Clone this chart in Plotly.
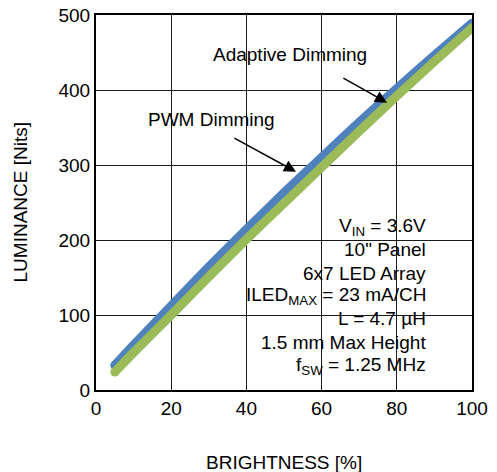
import plotly.graph_objects as go

brightness = [5, 10, 20, 30, 40, 50, 60, 70, 80, 90, 100]
adaptive = [33, 60, 112, 164, 214, 263, 310, 357, 402, 446, 489]
pwm = [24, 50, 100, 151, 201, 249, 297, 345, 392, 438, 483]

x_ticks = [0, 20, 40, 60, 80, 100]
y_ticks = [0, 100, 200, 300, 400, 500]

conditions = [
    "V<sub>IN</sub> = 3.6V",
    "10\" Panel",
    "6x7 LED Array",
    "ILED<sub>MAX</sub> = 23 mA/CH",
    "L = 4.7 µH",
    "1.5 mm Max Height",
    "f<sub>SW</sub> = 1.25 MHz",
]
condition_y = [217, 187, 156, 125, 95, 63, 32]

BLUE = "#4F81BD"
GREEN = "#9BBB59"
FONT = "Liberation Sans, Arial, sans-serif"
FS = 19

fig = go.Figure()
for ys, col, name in [(adaptive, BLUE, "Adaptive Dimming"), (pwm, GREEN, "PWM Dimming")]:
    fig.add_trace(go.Scatter(x=brightness, y=ys, mode="lines",
                             line=dict(color=col, width=9, shape="spline", smoothing=0.6),
                             name=name, showlegend=False))
    fig.add_trace(go.Scatter(x=[brightness[0], brightness[-1]], y=[ys[0], ys[-1]],
                             mode="markers", marker=dict(color=col, size=9),
                             showlegend=False, hoverinfo="skip"))

ann = [
    dict(x=77.4, y=383, ax=65.4, ay=417, xref="x", yref="y", axref="x", ayref="y",
         showarrow=True, arrowhead=2, arrowsize=1.6, arrowwidth=1.5, arrowcolor="black", text=""),
    dict(x=53.2, y=291, ax=36.4, ay=337, xref="x", yref="y", axref="x", ayref="y",
         showarrow=True, arrowhead=2, arrowsize=1.6, arrowwidth=1.5, arrowcolor="black", text=""),
    dict(x=51.6, y=448, xref="x", yref="y", text="Adaptive Dimming", showarrow=False,
         font=dict(size=FS, color="black", family=FONT)),
    dict(x=30.6, y=361, xref="x", yref="y", text="PWM Dimming", showarrow=False,
         font=dict(size=FS, color="black", family=FONT)),
    dict(x=0.5, y=-0.192, xref="paper", yref="paper", text="BRIGHTNESS [%]", showarrow=False,
         xanchor="center", yanchor="middle", font=dict(size=FS, color="black", family=FONT)),
    dict(x=-0.1995, y=0.5, xref="paper", yref="paper", text="LUMINANCE [Nits]", showarrow=False,
         textangle=-90, xanchor="center", yanchor="middle",
         font=dict(size=FS, color="black", family=FONT)),
]
for t, yv in zip(conditions, condition_y):
    ann.append(dict(x=88.4, y=yv, xref="x", yref="y", text=t, showarrow=False,
                    xanchor="right", yanchor="middle",
                    font=dict(size=FS, color="black", family=FONT)))

axis_common = dict(showgrid=True, gridcolor="#1a1a1a", gridwidth=1,
                   showline=True, linecolor="black", linewidth=2, mirror=True,
                   zeroline=False, ticks="", automargin=False,
                   tickfont=dict(size=FS, color="black", family=FONT))

fig.update_layout(
    width=497, height=472,
    margin=dict(l=96, r=25, t=15, b=82, autoexpand=False),
    paper_bgcolor="white", plot_bgcolor="white",
    font=dict(family=FONT, size=FS, color="black"),
    annotations=ann,
    hovermode=False,
    xaxis=dict(range=[0, 100], tickvals=x_ticks, **axis_common),
    yaxis=dict(range=[0, 500], tickvals=y_ticks, **axis_common),
)

# remove the browser's default 8px body margin so the figure sits at the page corner
fig.write_html("out.html", config={"displayModeBar": False, "staticPlot": True},
               post_script="document.body.style.margin='0';")
